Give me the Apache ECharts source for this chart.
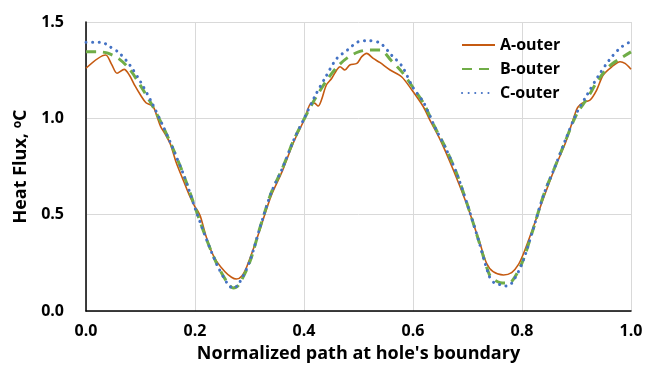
<!DOCTYPE html>
<html>
<head>
<meta charset="utf-8">
<script src="https://cdn.jsdelivr.net/npm/echarts@6/dist/echarts.min.js"></script>
<style>
  html, body { margin: 0; padding: 0; background: #fff; }
  #chart { width: 646px; height: 372px; }
</style>
</head>
<body>
<div id="chart"></div>
<script>
// path positions shared by B and C
const pathBC = [0, 0.02, 0.03, 0.04, 0.06, 0.08, 0.10, 0.12, 0.14, 0.16, 0.18, 0.20, 0.22, 0.24, 0.26, 0.27, 0.28,
  0.30, 0.32, 0.34, 0.36, 0.38, 0.40, 0.42, 0.44, 0.46, 0.48, 0.50, 0.52, 0.54, 0.56, 0.58, 0.60, 0.62, 0.64,
  0.66, 0.68, 0.70, 0.72, 0.74, 0.75, 0.76, 0.77, 0.78, 0.80, 0.82, 0.84, 0.86, 0.88, 0.90, 0.92, 0.94, 0.96,
  0.98, 1.00];
const outerB = [1.346, 1.346, 1.344, 1.338, 1.31, 1.255, 1.17, 1.075, 0.965, 0.84, 0.70, 0.54, 0.38, 0.245, 0.145, 0.12, 0.135,
  0.25, 0.44, 0.615, 0.738, 0.88, 0.995, 1.10, 1.19, 1.265, 1.315, 1.345, 1.355, 1.355, 1.30, 1.24, 1.16, 1.075, 0.955,
  0.845, 0.715, 0.55, 0.37, 0.19, 0.16, 0.147, 0.145, 0.15, 0.25, 0.42, 0.605, 0.745, 0.885, 1.02, 1.105, 1.20, 1.27,
  1.31, 1.345];
const outerC = [1.395, 1.395, 1.395, 1.378, 1.342, 1.278, 1.19, 1.086, 0.968, 0.84, 0.70, 0.535, 0.38, 0.242, 0.14, 0.118, 0.14,
  0.255, 0.44, 0.615, 0.738, 0.88, 0.998, 1.115, 1.216, 1.31, 1.355, 1.398, 1.403, 1.39, 1.33, 1.27, 1.16, 1.08, 0.955,
  0.845, 0.715, 0.55, 0.37, 0.18, 0.144, 0.137, 0.13, 0.14, 0.245, 0.42, 0.605, 0.745, 0.89, 1.026, 1.125, 1.22, 1.302,
  1.365, 1.40];

// A-outer is wavier, so it has its own positions
const pathA = [0, 0.036, 0.047, 0.057, 0.07, 0.08, 0.09, 0.10, 0.11, 0.12, 0.125, 0.13, 0.137, 0.145, 0.155, 0.165, 0.18,
  0.19, 0.20, 0.205, 0.21, 0.22, 0.23, 0.24, 0.255, 0.267, 0.276, 0.286, 0.295, 0.31, 0.32, 0.34, 0.36, 0.38, 0.40,
  0.414, 0.42, 0.426, 0.432, 0.441, 0.451, 0.46, 0.466, 0.475, 0.484, 0.497, 0.506, 0.515, 0.527, 0.539, 0.558, 0.579,
  0.598, 0.619, 0.631, 0.65, 0.674, 0.698, 0.71, 0.723, 0.735, 0.747, 0.766, 0.781, 0.793, 0.803, 0.82, 0.84, 0.86,
  0.88, 0.90, 0.906, 0.916, 0.925, 0.937, 0.949, 0.965, 0.98, 0.989, 1.0];
const outerA = [1.26, 1.329, 1.28, 1.234, 1.254, 1.222, 1.168, 1.121, 1.081, 1.068, 1.052, 1.012, 0.957, 0.92, 0.865, 0.775, 0.668,
  0.598, 0.54, 0.52, 0.49, 0.39, 0.31, 0.256, 0.204, 0.175, 0.166, 0.182, 0.23, 0.345, 0.43, 0.60, 0.725, 0.87, 0.99,
  1.081, 1.078, 1.064, 1.095, 1.173, 1.208, 1.251, 1.268, 1.251, 1.277, 1.285, 1.32, 1.337, 1.311, 1.29, 1.251, 1.216,
  1.147, 1.06, 0.991, 0.888, 0.732, 0.559, 0.46, 0.35, 0.248, 0.204, 0.187, 0.199, 0.239, 0.30, 0.43, 0.59, 0.74,
  0.875, 1.045, 1.069, 1.086, 1.095, 1.147, 1.225, 1.268, 1.294, 1.285, 1.255];

const seriesNames = ['A-outer', 'B-outer', 'C-outer'];

const pairs = (xs, ys) => xs.map((x, i) => [x, ys[i]]);
const font = '"Open Sans", Lato, sans-serif';

const myChart = echarts.init(document.getElementById('chart'));
const option = {
  animation: false,
  grid: { left: 86, right: 15, top: 22, bottom: 61 },
  legend: {
    orient: 'vertical',
    left: 456,
    top: 32,
    itemWidth: 33,
    itemHeight: 14,
    itemGap: 8,
    itemStyle: { opacity: 0 },
    textStyle: { fontFamily: font, fontWeight: 'bold', fontSize: 16, color: '#000' },
    data: seriesNames
  },
  xAxis: {
    type: 'value',
    min: 0,
    max: 1,
    interval: 0.2,
    name: "Normalized path at hole's boundary",
    nameLocation: 'middle',
    nameGap: 34,
    nameTextStyle: { fontFamily: font, fontWeight: 'bold', fontSize: 18, color: '#000' },
    axisLine: { lineStyle: { color: '#000', width: 1.5 } },
    axisTick: { show: false },
    axisLabel: {
      margin: 12,
      fontFamily: font, fontWeight: 'bold', fontSize: 16, color: '#000',
      formatter: v => v.toFixed(1)
    },
    splitLine: { show: true, lineStyle: { color: '#d9d9d9', width: 1 } }
  },
  yAxis: {
    type: 'value',
    min: 0,
    max: 1.5,
    interval: 0.5,
    name: 'Heat Flux, {sup|o}C',
    nameLocation: 'middle',
    nameGap: 54,
    nameTextStyle: {
      fontFamily: font, fontWeight: 'bold', fontSize: 18, color: '#000',
      rich: {
        sup: { fontFamily: font, fontWeight: 'bold', fontSize: 12, color: '#000', padding: [0, 0, 8, 0] }
      }
    },
    axisLine: { show: true, lineStyle: { color: '#000', width: 1.5 } },
    axisTick: { show: false },
    axisLabel: {
      margin: 22,
      fontFamily: font, fontWeight: 'bold', fontSize: 16, color: '#000',
      formatter: v => v.toFixed(1)
    },
    splitLine: { show: true, lineStyle: { color: '#d9d9d9', width: 1 } }
  },
  series: [
    {
      name: seriesNames[0],
      type: 'line',
      symbol: 'none',
      smooth: 0.3,
      data: pairs(pathA, outerA),
      itemStyle: { color: '#C55A11' },
      lineStyle: { color: '#C55A11', width: 1.6 }
    },
    {
      name: seriesNames[1],
      type: 'line',
      symbol: 'none',
      smooth: 0.3,
      data: pairs(pathBC, outerB),
      itemStyle: { color: '#70AD47' },
      lineStyle: { color: '#70AD47', width: 3, type: [10, 7] }
    },
    {
      name: seriesNames[2],
      type: 'line',
      symbol: 'none',
      smooth: 0.3,
      data: pairs(pathBC, outerC),
      itemStyle: { color: '#4472C4' },
      lineStyle: { color: '#4472C4', width: 3, type: [0.1, 6.5], cap: 'round' }
    }
  ]
};
myChart.setOption(option);
</script>
</body>
</html>
